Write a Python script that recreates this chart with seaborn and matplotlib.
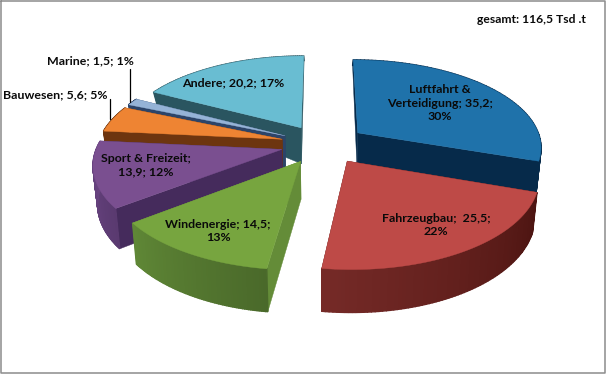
import matplotlib
matplotlib.use('Agg')
import matplotlib.pyplot as plt
import numpy as np
import pandas as pd
import seaborn as sns

names = ['Luftfahrt & Verteidigung', 'Fahrzeugbau', 'Windenergie', 'Sport & Freizeit',
         'Bauwesen', 'Marine', 'Andere']
values = [35.2, 25.5, 14.5, 13.9, 5.6, 1.5, 20.2]
percents = [30, 22, 13, 12, 5, 1, 17]
total_label = 'gesamt: 116,5 Tsd .t'

top_colors = ['#1f72aa', '#be4a47', '#77a53f', '#7a4f90', '#ee8433', '#95b3d7', '#69bdd2']
radial_colors = ['#062a4a', '#4f1714', '#648c38', '#452b5c', '#6d350f', '#2c4469', '#2a5560']
rim_colors = [('#062a4a', '#062a4a'), ('#4c1411', '#752a27'), ('#4a692a', '#5f8736'),
              ('#5a3a70', '#6b4584'), ('#6d350f', '#6d350f'), ('#2c4469', '#2c4469'),
              ('#2a5560', '#2a5560')]

# label text as (lines, x, y) in picture pixels
label_lines = {
    'Luftfahrt & Verteidigung': (['Luftfahrt &', 'Verteidigung; 35,2;', '30%'], 440, 103),
    'Fahrzeugbau': (['Fahrzeugbau;  25,5;', '22%'], 436, 225),
    'Windenergie': (['Windenergie; 14,5;', '13%'], 218, 231),
    'Sport & Freizeit': (['Sport & Freizeit;', '13,9; 12%'], 146, 165),
    'Bauwesen': (['Bauwesen; 5,6; 5%'], 55, 95),
    'Marine': (['Marine; 1,5; 1%'], 90, 61),
    'Andere': (['Andere; 20,2; 17%'], 233, 83),
}

CX, CY = 322, 144
R, K, D, EXPLODE = 184, 86.8, 6.76, 0.225


def project(x, y):
    s = D / (D + y)
    return CX + R * x * s, CY - K * y * s


def depth(y):
    # wall height shrinks towards the back of the pie
    return np.interp(y, [-1.2, 0.2, 0.66, 1.25], [43, 36, 12, 4])


def lower(x, y):
    px, py = project(x, y)
    return px - 0.02 * (px - CX), py + depth(y)


df = pd.DataFrame({'name': names, 'value': values, 'percent': percents})
df['top'] = top_colors
df['radial'] = radial_colors
df['rim'] = rim_colors
df['end'] = df['value'].cumsum() / df['value'].sum() * 2 * np.pi
df['start'] = df['end'].shift(fill_value=0.0)
df['mid'] = (df['start'] + df['end']) / 2

sns.set_theme(style='white')
plt.rcParams['font.family'] = ['Lato', 'DejaVu Sans']

fig = plt.figure(figsize=(6.06, 3.74), dpi=100)
ax = fig.add_axes([0, 0, 1, 1])
ax.set_xlim(0, 606)
ax.set_ylim(374, 0)
ax.axis('off')

# painter's order: back slices first
draw_order = ['Andere', 'Marine', 'Bauwesen', 'Luftfahrt & Verteidigung', 'Sport & Freizeit',
              'Windenergie', 'Fahrzeugbau']

for name in draw_order:
    row = df[df['name'] == name].iloc[0]
    ox = EXPLODE * np.sin(row['mid'])
    oy = EXPLODE * np.cos(row['mid'])
    # right hand slices sit a little further out
    if row['mid'] < np.pi:
        ox += 0.015
    theta = np.linspace(row['start'], row['end'], 80)
    rx = ox + np.sin(theta)
    ry = oy + np.cos(theta)

    top_x, top_y = project(rx, ry)
    low_x, low_y = lower(rx, ry)
    apex_x, apex_y = project(ox, oy)
    apex_lx, apex_ly = lower(ox, oy)

    # radial walls
    for i in [0, -1]:
        ax.fill([apex_x, top_x[i], low_x[i], apex_lx], [apex_y, top_y[i], low_y[i], apex_ly],
                color=row['radial'], lw=0.3, zorder=1)

    # rim wall, in thin strips for the shading
    shades = sns.blend_palette(list(row['rim']), len(theta) - 1)
    for i in range(len(theta) - 1):
        ax.fill([top_x[i], top_x[i + 1], low_x[i + 1], low_x[i]],
                [top_y[i], top_y[i + 1], low_y[i + 1], low_y[i]],
                color=shades[i], lw=1.0, zorder=1)

    ax.fill(np.r_[apex_x, top_x], np.r_[apex_y, top_y], color=row['top'], lw=0.3, zorder=1)

for name, (lines, x, y) in label_lines.items():
    ax.text(x, y, '\n'.join(lines), ha='center', va='center', fontsize=8.9, fontweight='bold',
            color='#0a0a0a', linespacing=1.25, zorder=5)

ax.text(531, 19, total_label, ha='center', va='center', fontsize=8.7, fontweight='bold',
        color='#0a0a0a', zorder=5)

# leader lines of the two small slices
ax.plot([130, 130], [69, 102], color='black', lw=0.9, zorder=4)
ax.plot([110, 110], [99, 119], color='black', lw=0.9, zorder=4)

# chart frame
ax.plot([0.8, 605, 605, 0.8, 0.8], [0.8, 0.8, 372.5, 372.5, 0.8], color='#8c8c8c', lw=1.1,
        zorder=6, clip_on=False)

fig.savefig('out.png', dpi=100, facecolor='white')
